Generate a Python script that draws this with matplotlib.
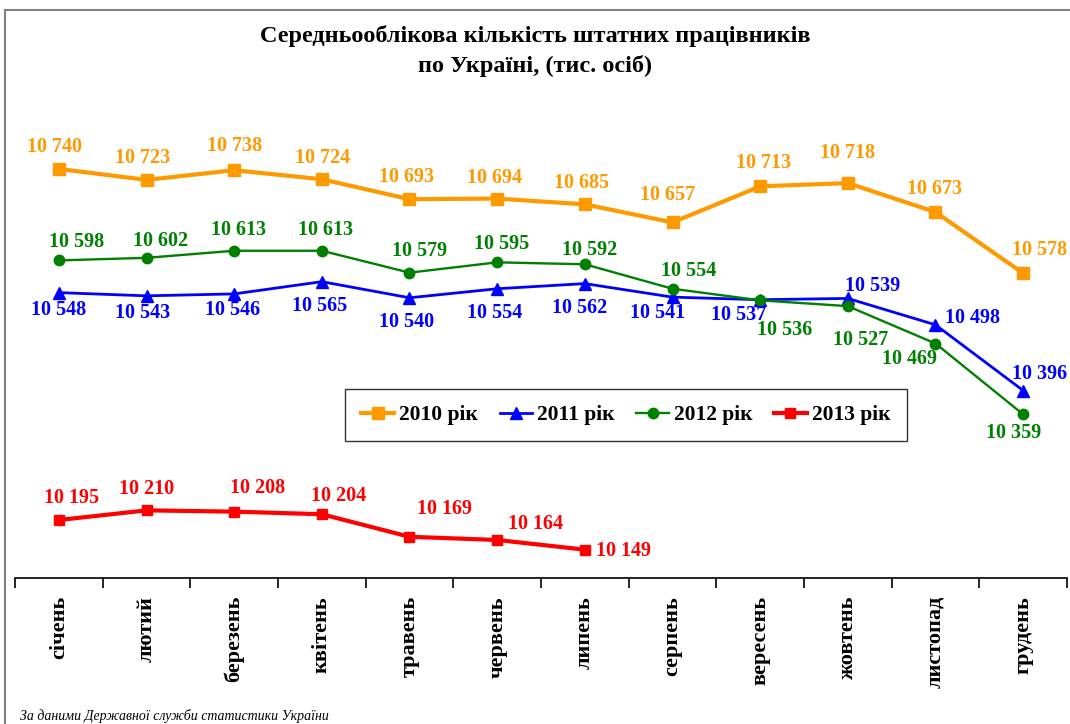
import numpy as np
import matplotlib.pyplot as plt
from matplotlib.patches import Rectangle

plt.rcParams['font.family'] = ['Liberation Serif', 'DejaVu Serif']

months = ['січень', 'лютий', 'березень', 'квітень', 'травень', 'червень',
          'липень', 'серпень', 'вересень', 'жовтень', 'листопад', 'грудень']

y2010 = [10740, 10723, 10738, 10724, 10693, 10694, 10685, 10657, 10713, 10718, 10673, 10578]
y2011 = [10548, 10543, 10546, 10565, 10540, 10554, 10562, 10541, 10537, 10539, 10498, 10396]
y2012 = [10598, 10602, 10613, 10613, 10579, 10595, 10592, 10554, 10536, 10527, 10469, 10359]
y2013 = [10195, 10210, 10208, 10204, 10169, 10164, 10149]

# label offsets in pixels (dx, dy), dy positive = up
off2010 = [(-4, 22), (-4, 22), (0, 24), (1, 21), (-3, 22), (-3, 21), (-3, 21), (-5, 27),
           (3, 23), (0, 30), (-1, 23), (16, 23)]
off2011 = [(0, -17), (-4, -17), (-2, -16), (-2, -24), (-3, -24), (-3, -24), (-5, -24), (-15, -16),
           (-22, -15), (25, 12), (37, 7), (16, 17)]
off2012 = [(18, 18), (14, 17), (4, 21), (4, 21), (10, 22), (4, 18), (5, 14), (16, 18),
           (24, -30), (13, -34), (-26, -15), (-10, -19)]
off2013 = [(13, 22), (0, 21), (23, 24), (17, 18), (35, 28), (38, 16), (39, -1)]

c2010 = '#FF9900'
c2011 = '#0000FF'
c2012 = '#008000'
c2013 = '#FF0000'

fig = plt.figure(figsize=(10.7, 7.24), dpi=100)
fig.patches.append(Rectangle((5 / 1070, -0.1), 1.2, 1 - 10 / 724 + 0.1, transform=fig.transFigure,
                             fill=False, edgecolor='#808080', linewidth=1.5))

ax = fig.add_axes([15 / 1070, 1 - 578 / 724, 1052 / 1070, 478 / 724])
x = np.arange(12)

series = [
    (y2010, off2010, c2010, 's', 9, 3.0, '2010 рік'),
    (y2011, off2011, c2011, '^', 8, 2.0, '2011 рік'),
    (y2012, off2012, c2012, 'o', 7.5, 1.7, '2012 рік'),
    (y2013, off2013, c2013, 's', 7.5, 3.0, '2013 рік'),
]
for vals, offs, col, mk, ms, lw, lab in series:
    xs = x[:len(vals)]
    ax.plot(xs, vals, color=col, marker=mk, markersize=ms, linewidth=lw, label=lab)
    for xi, v, (dx, dy) in zip(xs, vals, offs):
        txt = f'{v // 1000} {v % 1000:03d}'
        ax.annotate(txt, (xi, v), xytext=(dx, dy), textcoords='offset pixels',
                    ha='center', va='center', color=col, fontsize=14.5, fontweight='bold')

ax.set_xlim(-0.5, 11.5)
ax.set_ylim(10105, 10847)
for s in ['top', 'right', 'left']:
    ax.spines[s].set_visible(False)
ax.spines['bottom'].set_linewidth(1.2)
ax.set_yticks([])
ax.set_xticks(np.arange(-0.5, 12, 1))
ax.set_xticklabels([])
ax.tick_params(axis='x', length=7, width=1.2, direction='out')
ax.set_xticks(x, minor=True)
ax.set_xticklabels(months, minor=True, rotation=90, fontsize=16, fontweight='bold')
ax.tick_params(axis='x', which='minor', length=0, pad=13)

leg = ax.legend(loc='center', bbox_to_anchor=(611 / 1052, (578 - 415) / 478), ncol=4,
                prop={'size': 15.5, 'weight': 'bold'}, frameon=True, fancybox=False,
                handlelength=1.5, handletextpad=0.25, columnspacing=1.0, borderpad=0.75)
leg.get_frame().set_edgecolor('black')
leg.get_frame().set_linewidth(1.0)

fig.text(0.5, 1 - 51 / 724, 'Середньооблікова кількість штатних працівників\nпо Україні, (тис. осіб)',
         ha='center', va='center', fontsize=17.5, fontweight='bold', linespacing=1.45)
fig.text(20 / 1070, 1 - 716 / 724, 'За даними Державної служби статистики України',
         ha='left', va='center', fontsize=10, style='italic')

fig.savefig('out.png', dpi=100)
